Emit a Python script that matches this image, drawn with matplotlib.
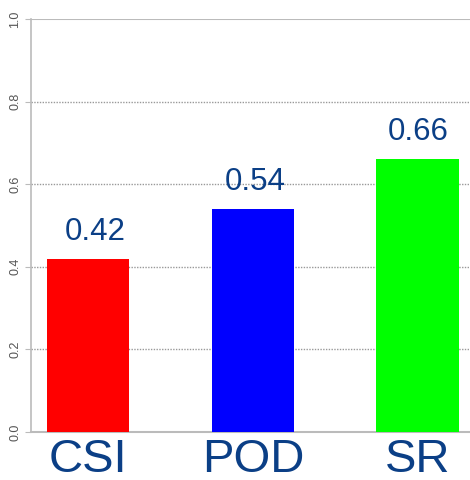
import matplotlib
matplotlib.use("Agg")
import matplotlib.pyplot as plt

categories = ["CSI", "POD", "SR"]
values = [0.42, 0.54, 0.66]
colors = ["#ff0000", "#0000ff", "#00ff00"]
y_ticks = [0.0, 0.2, 0.4, 0.6, 0.8, 1.0]

fig = plt.figure(figsize=(4.7, 4.8), dpi=100)
ax = fig.add_axes([31/470, 1 - 432/480, 1 - 31/470, 413/480])

x = list(range(len(categories)))
ax.bar(x, values, width=0.5, color=colors, zorder=3)
ax.set_xlim(-0.348, 2.318)
ax.set_ylim(0, 1.0)

for v_y in y_ticks[1:-1]:
    ax.axhline(v_y, color="#999999", linestyle=(0, (1, 1)), linewidth=1.0, zorder=1)
ax.axhline(1.0, color="#bbbbbb", linewidth=1.5, zorder=1)

for s in ["top", "right"]:
    ax.spines[s].set_visible(False)
ax.spines["left"].set_color("#bbbbbb")
ax.spines["bottom"].set_color("#bbbbbb")
ax.spines["left"].set_linewidth(1.2)
ax.spines["bottom"].set_linewidth(1.5)

ax.set_yticks(y_ticks)
ax.set_yticklabels([f"{t:.1f}" for t in y_ticks], rotation=90, va="center",
                   fontsize=9, color="#555555", family="Liberation Sans")
ax.tick_params(axis="y", length=4, color="#bbbbbb", pad=3)
ax.set_xticks(x)
ax.set_xticklabels(categories, fontsize=34, color="#0b3f86", family="Liberation Sans")
ax.tick_params(axis="x", length=0, pad=4)

label_dx = [0.04, 0.015, 0.005]
for xi, v, dx in zip(x, values, label_dx):
    ax.text(xi + dx, v + 0.046, f"{v:.2f}", ha="center", va="baseline",
            fontsize=22.5, color="#0b3f86", family="Liberation Sans")

fig.savefig("out.png", dpi=100)
